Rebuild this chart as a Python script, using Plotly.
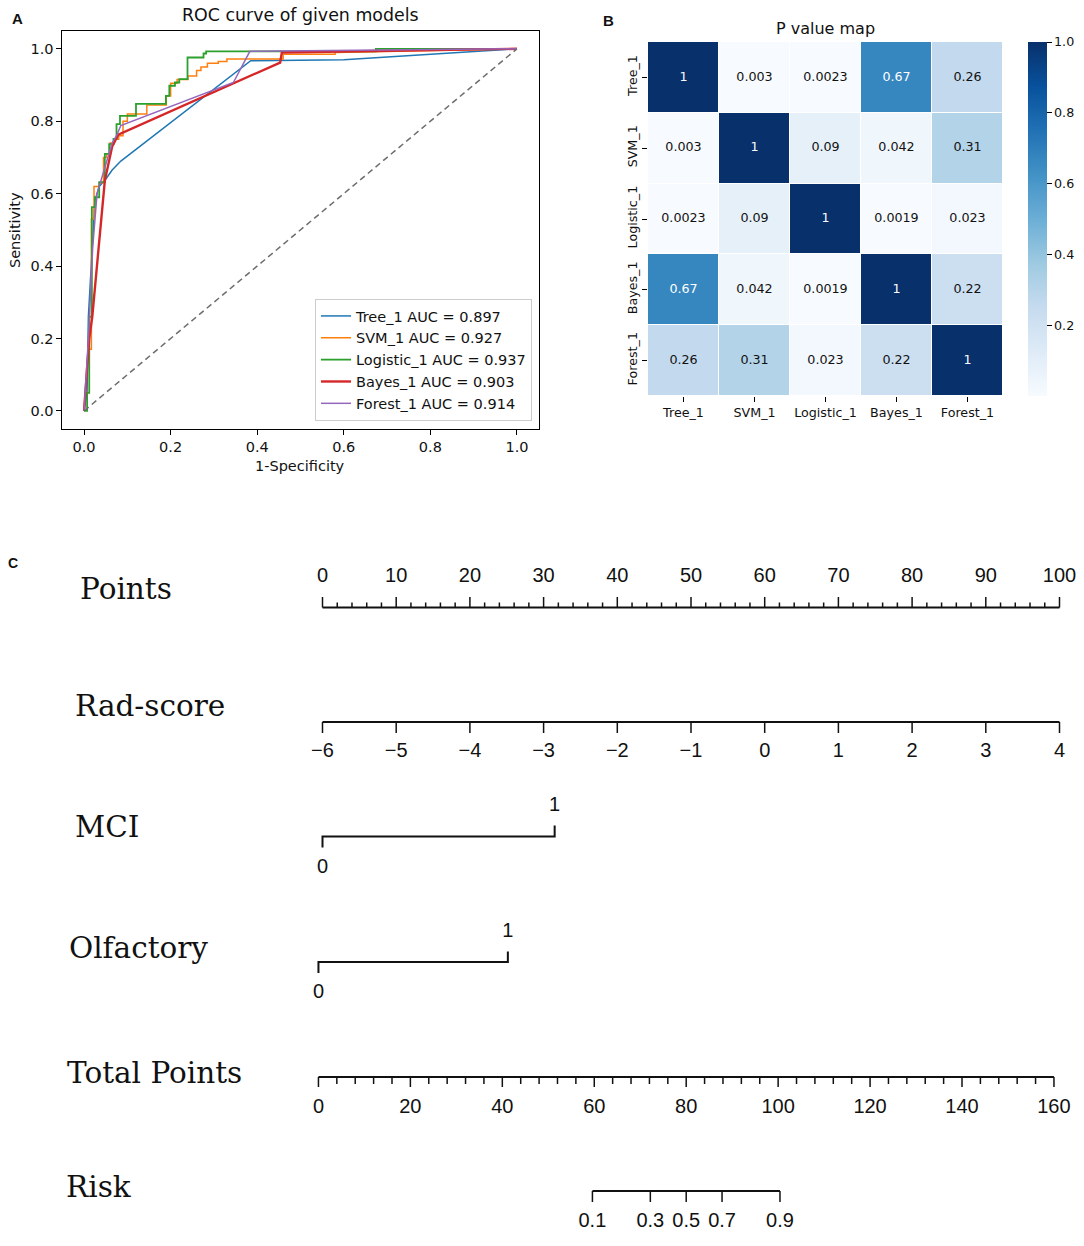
import plotly.graph_objects as go

W, H = 1084, 1246

# ---------------- data: panel A (ROC) ----------------
roc_models = ["Tree_1", "SVM_1", "Logistic_1", "Bayes_1", "Forest_1"]
roc_auc = ["0.897", "0.927", "0.937", "0.903", "0.914"]

tree_fpr = [0, 0.007, 0.01, 0.025, 0.035, 0.05, 0.065, 0.085, 0.385, 0.6, 1.0]
tree_tpr = [0, 0.05, 0.26, 0.58, 0.62, 0.64, 0.665, 0.69, 0.967, 0.97, 1.0]

svm_fpr = [0, 0.01, 0.017, 0.017, 0.023, 0.023, 0.035, 0.035, 0.045, 0.045, 0.052, 0.052,
           0.06, 0.06, 0.07, 0.07, 0.08, 0.08, 0.09, 0.09, 0.1, 0.1, 0.145, 0.145, 0.19, 0.19,
           0.2, 0.2, 0.215, 0.215, 0.24, 0.24, 0.26, 0.26, 0.27, 0.27, 0.285, 0.285, 0.31, 0.31,
           0.33, 0.33, 0.46, 0.46, 0.58, 0.58, 1.0]
svm_tpr = [0, 0.17, 0.17, 0.53, 0.53, 0.62, 0.62, 0.63, 0.63, 0.70, 0.70, 0.71,
           0.71, 0.74, 0.74, 0.75, 0.75, 0.76, 0.76, 0.80, 0.80, 0.82, 0.82, 0.845, 0.845, 0.87,
           0.87, 0.905, 0.905, 0.915, 0.915, 0.925, 0.925, 0.94, 0.94, 0.95, 0.95, 0.96, 0.96, 0.965,
           0.965, 0.972, 0.972, 0.985, 0.985, 0.99, 1.0]

log_fpr = [0, 0.007, 0.007, 0.012, 0.012, 0.018, 0.018, 0.025, 0.025, 0.035, 0.035, 0.048,
           0.048, 0.058, 0.058, 0.068, 0.068, 0.075, 0.075, 0.083, 0.083, 0.12, 0.12, 0.189,
           0.189, 0.197, 0.197, 0.21, 0.21, 0.22, 0.22, 0.239, 0.239, 0.276, 0.276, 0.282,
           0.282, 0.674, 0.674, 1.0]
log_tpr = [0, 0, 0.05, 0.05, 0.26, 0.26, 0.563, 0.563, 0.59, 0.59, 0.632, 0.632,
           0.71, 0.71, 0.737, 0.737, 0.751, 0.751, 0.792, 0.792, 0.815, 0.815, 0.848, 0.848,
           0.87, 0.87, 0.898, 0.898, 0.907, 0.907, 0.916, 0.916, 0.976, 0.976, 0.987, 0.987,
           0.993, 0.993, 1.0, 1.0]

bayes_fpr = [0, 0.012, 0.019, 0.048, 0.065, 0.079, 0.453, 0.457, 1.0]
bayes_tpr = [0, 0.2, 0.26, 0.636, 0.73, 0.763, 0.962, 0.99, 1.0]

forest_fpr = [0, 0.01, 0.02, 0.03, 0.045, 0.065, 0.075, 0.085, 0.345, 0.383, 1.0]
forest_tpr = [0, 0.2, 0.45, 0.6, 0.66, 0.74, 0.76, 0.788, 0.907, 0.993, 1.0]

chance_line = [0, 1]
roc_ticks = [0, 0.2, 0.4, 0.6, 0.8, 1.0]

# ---------------- data: panel B (P value map) ----------------
pmap_labels = ["Tree_1", "SVM_1", "Logistic_1", "Bayes_1", "Forest_1"]
p_tree = [1, 0.003, 0.0023, 0.67, 0.26]
p_svm = [0.003, 1, 0.09, 0.042, 0.31]
p_logistic = [0.0023, 0.09, 1, 0.0019, 0.023]
p_bayes = [0.67, 0.042, 0.0019, 1, 0.22]
p_forest = [0.26, 0.31, 0.023, 0.22, 1]
cbar_ticks = [0.2, 0.4, 0.6, 0.8, 1.0]

# ---------------- data: panel C (nomogram) ----------------
row_names = ["Points", "Rad-score", "MCI", "Olfactory", "Total Points", "Risk"]
points_ticks = [0, 10, 20, 30, 40, 50, 60, 70, 80, 90, 100]
points_minor = [v for v in range(0, 101, 2) if v % 10]
rad_score_ticks = [-6, -5, -4, -3, -2, -1, 0, 1, 2, 3, 4]
rad_score_points = [0, 10, 20, 30, 40, 50, 60, 70, 80, 90, 100]
mci_levels = ["0", "1"]
mci_points = [0, 31.5]
olf_levels = ["0", "1"]
olf_points = [0, 25.7]
total_ticks = [0, 20, 40, 60, 80, 100, 120, 140, 160]
total_minor = [v for v in range(0, 161, 4) if v % 20]
risk_labels = ["0.1", "0.3", "0.5", "0.7", "0.9"]
risk_total_points = [59.6, 72.2, 80.0, 87.8, 100.4]

# ---------------- styling / layout constants ----------------
SANS = "DejaVu Sans"
SERIF = "DejaVu Serif"
RSANS = "Liberation Sans"
INK = "#111111"
roc_colors = ["#1f77b4", "#ff7f0e", "#2ca02c", "#d62728", "#9467bd"]
roc_widths = [1.5, 1.5, 1.8, 2.4, 1.5]
blues = [[0.0, "#f7fbff"], [0.125, "#deebf7"], [0.25, "#c6dbef"], [0.375, "#9ecae1"],
         [0.5, "#6baed6"], [0.625, "#4292c6"], [0.75, "#2171b5"], [0.875, "#08519c"],
         [1.0, "#08306b"]]

def px(x):
    return x / W

def py(y):
    return 1 - y / H

fig = go.Figure()

# ---------------- Panel A ----------------
roc_x = [tree_fpr, svm_fpr, log_fpr, bayes_fpr, forest_fpr]
roc_y = [tree_tpr, svm_tpr, log_tpr, bayes_tpr, forest_tpr]
for name, auc, xs, ys, c, w in zip(roc_models, roc_auc, roc_x, roc_y, roc_colors, roc_widths):
    fig.add_trace(go.Scatter(x=xs, y=ys, mode="lines", name=f"{name} AUC = {auc}",
                             line=dict(color=c, width=w), xaxis="x", yaxis="y"))
fig.add_trace(go.Scatter(x=chance_line, y=chance_line, mode="lines", showlegend=False,
                         line=dict(color="#6e6e6e", width=1.5, dash="6px,4px"),
                         xaxis="x", yaxis="y"))

ax_common = dict(showline=True, linecolor="black", linewidth=1, mirror=True, ticks="outside",
                 ticklen=5, tickwidth=1, tickcolor="black", showgrid=False, zeroline=False,
                 tickfont=dict(family=SANS, size=14.5, color=INK))
fig.update_layout(
    xaxis=dict(domain=[px(62.4), px(538.6)], range=[-0.05, 1.05], anchor="y",
               tickvals=roc_ticks, tickformat=".1f", **ax_common),
    yaxis=dict(domain=[py(429), py(30.7)], range=[-0.05, 1.05], anchor="x",
               tickvals=roc_ticks, tickformat=".1f", **ax_common),
)

# ---------------- Panel B ----------------
pmat = [p_tree, p_svm, p_logistic, p_bayes, p_forest]
fig.add_trace(go.Heatmap(
    z=pmat, x=pmap_labels, y=pmap_labels, colorscale=blues, zmin=0.0019, zmax=1.0,
    xgap=1, ygap=1, xaxis="x2", yaxis="y2", hoverinfo="skip",
    colorbar=dict(thickness=19, lenmode="pixels", len=354, x=px(1028), xanchor="left",
                  xpad=0, ypad=0, y=py(219), yanchor="middle", tickvals=cbar_ticks,
                  ticktext=[f"{v:.1f}" for v in cbar_ticks], ticks="outside", ticklen=5,
                  tickcolor="black", outlinewidth=0,
                  tickfont=dict(family=SANS, size=12.7, color=INK)),
))
cx, cy, ct, cc = [], [], [], []
for i, row in enumerate(pmat):
    for j, v in enumerate(row):
        cx.append(pmap_labels[j])
        cy.append(pmap_labels[i])
        ct.append(f"{v:.2g}")
        cc.append("white" if v > 0.5 else INK)
fig.add_trace(go.Scatter(x=cx, y=cy, mode="text", text=ct, showlegend=False,
                         textfont=dict(family=SANS, size=12.7, color=cc),
                         xaxis="x2", yaxis="y2", hoverinfo="skip"))
fig.update_layout(
    xaxis2=dict(domain=[px(648), px(1003)], anchor="y2", showgrid=False, zeroline=False,
                showline=False, ticks="outside", ticklen=5, tickcolor="black",
                tickfont=dict(family=SANS, size=12.7, color=INK)),
    yaxis2=dict(domain=[py(396), py(42)], anchor="x2", autorange="reversed", showgrid=False,
                zeroline=False, showline=False, ticks="outside", ticklen=5, tickcolor="black",
                tickangle=-90, tickfont=dict(family=SANS, size=12.7, color=INK)),
)

# ---------------- Panel C (nomogram) ----------------
PX_PER_PT = 7.37
X0 = 322.5
OLF_SHIFT = -0.55                       # small drawing offset of the Olfactory row
TOT_SCALE = (1054 - 318.5) / 160 / PX_PER_PT   # points-axis units per total point
TOT_SHIFT = -0.55

def tot(v):
    return v * TOT_SCALE + TOT_SHIFT

# row vertical positions (pixel rows)
Y_PTS, Y_RAD, Y_MCI, Y_OLF, Y_TOT, Y_RISK = 607.5, 722, 836.5, 962, 1077, 1191

def seg_trace(xs, ys, width):
    return go.Scatter(x=xs, y=ys, mode="lines", showlegend=False, hoverinfo="skip",
                      line=dict(color=INK, width=width), xaxis="x3", yaxis="y3")

def ticks_xy(vals, y0, y1):
    xs, ys = [], []
    for v in vals:
        xs += [v, v, None]
        ys += [y0, y1, None]
    return xs, ys

def text_trace(xs, ys, labels, size, family, pos="middle center"):
    return go.Scatter(x=xs, y=ys, mode="text", text=labels, textposition=pos,
                      showlegend=False, hoverinfo="skip", cliponaxis=False,
                      textfont=dict(family=family, size=size, color=INK),
                      xaxis="x3", yaxis="y3")

TF = 20  # nomogram tick-label font size

# Points
fig.add_trace(seg_trace([points_ticks[0], points_ticks[-1]], [Y_PTS, Y_PTS], 2.2))
fig.add_trace(seg_trace(*ticks_xy(points_ticks, Y_PTS, Y_PTS - 10.5), 1.5))
fig.add_trace(seg_trace(*ticks_xy(points_minor, Y_PTS, Y_PTS - 5), 1.5))
fig.add_trace(text_trace(points_ticks, [Y_PTS - 30.5] * len(points_ticks),
                         [str(v) for v in points_ticks], TF, RSANS))

# Rad-score
fig.add_trace(seg_trace([rad_score_points[0], rad_score_points[-1]], [Y_RAD, Y_RAD], 2.2))
fig.add_trace(seg_trace(*ticks_xy(rad_score_points, Y_RAD, Y_RAD + 11), 1.5))
fig.add_trace(text_trace(rad_score_points, [Y_RAD + 30] * len(rad_score_points),
                         [str(v).replace("-", "\u2212") for v in rad_score_ticks], TF, RSANS))

# MCI
fig.add_trace(seg_trace([mci_points[0], mci_points[0], mci_points[1], mci_points[1]],
                        [Y_MCI + 11, Y_MCI, Y_MCI, Y_MCI - 11], 2.0))
fig.add_trace(text_trace([mci_points[0]], [Y_MCI + 31], [mci_levels[0]], TF, RSANS))
fig.add_trace(text_trace([mci_points[1]], [Y_MCI - 31], [mci_levels[1]], TF, RSANS))

# Olfactory
ox = [p + OLF_SHIFT for p in olf_points]
fig.add_trace(seg_trace([ox[0], ox[0], ox[1], ox[1]],
                        [Y_OLF + 11, Y_OLF, Y_OLF, Y_OLF - 10.5], 2.0))
fig.add_trace(text_trace([ox[0]], [Y_OLF + 31], [olf_levels[0]], TF, RSANS))
fig.add_trace(text_trace([ox[1]], [Y_OLF - 30], [olf_levels[1]], TF, RSANS))

# Total points
tx = [tot(v) for v in total_ticks]
fig.add_trace(seg_trace([tx[0], tx[-1]], [Y_TOT, Y_TOT], 2.2))
fig.add_trace(seg_trace(*ticks_xy(tx, Y_TOT, Y_TOT + 10), 1.5))
fig.add_trace(seg_trace(*ticks_xy([tot(v) for v in total_minor], Y_TOT, Y_TOT + 7), 1.5))
fig.add_trace(text_trace(tx, [Y_TOT + 31] * len(tx), [str(v) for v in total_ticks], TF, RSANS))

# Risk
rx = [tot(v) for v in risk_total_points]
fig.add_trace(seg_trace([rx[0], rx[-1]], [Y_RISK, Y_RISK], 2.2))
fig.add_trace(seg_trace(*ticks_xy(rx, Y_RISK, Y_RISK + 11), 1.5))
fig.add_trace(text_trace(rx, [Y_RISK + 31] * len(rx), risk_labels, TF, RSANS))

fig.update_layout(
    xaxis3=dict(domain=[0, 1], range=[-X0 / PX_PER_PT, (W - X0) / PX_PER_PT], anchor="y3",
                visible=False, fixedrange=True),
    yaxis3=dict(domain=[0, py(540)], range=[H, 540], anchor="x3", visible=False,
                fixedrange=True),
)

# ---------------- annotations (titles, labels) ----------------
ann = []
def add_text(x, y, text, size, family, xanchor="center", yanchor="middle", angle=0, bold=False):
    ann.append(dict(x=px(x), y=py(y), xref="paper", yref="paper",
                    text=f"<b>{text}</b>" if bold else text,
                    showarrow=False, xanchor=xanchor, yanchor=yanchor, textangle=angle,
                    font=dict(family=family, size=size, color=INK)))

add_text(17.5, 18.5, "A", 15, "Liberation Sans", bold=True)
add_text(608.5, 20.5, "B", 15, "Liberation Sans", bold=True)
add_text(12.5, 563, "C", 14, "Liberation Sans", bold=True)
add_text(300.5, 15, "ROC curve of given models", 17.4, SANS)
add_text(300, 466, "1-Specificity", 14.5, SANS)
add_text(15, 230, "Sensitivity", 14.5, SANS, angle=-90)
add_text(825, 28, "P value map", 16, SANS)

row_x = [77.5, 72.5, 72.5, 66.5, 65, 64]
row_y = [589, 706, 827, 948, 1073, 1187]
for name, xx, yy in zip(row_names, row_x, row_y):
    add_text(xx, yy, name, 29.5, SERIF, xanchor="left")

fig.update_layout(
    width=W, height=H, margin=dict(l=0, r=0, t=0, b=0),
    paper_bgcolor="white", plot_bgcolor="white", annotations=ann,
    font=dict(family=SANS, color=INK),
    legend=dict(x=px(532), y=py(421), xanchor="right", yanchor="bottom",
                bgcolor="rgba(255,255,255,0.9)", bordercolor="#cccccc", borderwidth=1,
                font=dict(family=SANS, size=14.5, color=INK), tracegroupgap=0),
)

fig.write_html(
    "out.html",
    config={"displayModeBar": False, "staticPlot": True},
    post_script="document.body.style.margin='0';"
                "document.documentElement.style.overflow='hidden';"
                "document.body.style.overflow='hidden';",
)
